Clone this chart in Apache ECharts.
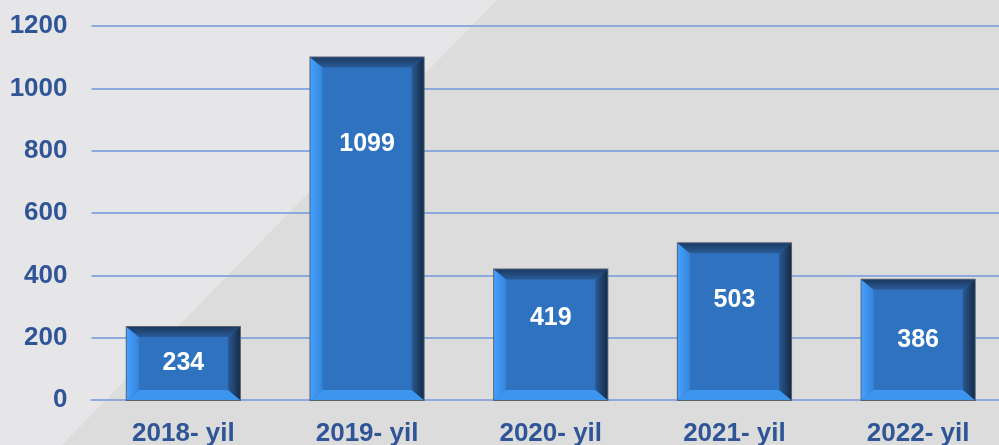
<!DOCTYPE html>
<html>
<head>
<meta charset="utf-8">
<script src="https://cdn.jsdelivr.net/npm/echarts@6/dist/echarts.min.js"></script>
<style>
    html, body { margin: 0; padding: 0; }
    #chart { width: 999px; height: 445px; }
</style>
</head>
<body>
<div id="chart"></div>
<script>
// data
var years = ['2018- yil', '2019- yil', '2020- yil', '2021- yil', '2022- yil'];
var counts = [234, 1099, 419, 503, 386];
var yTicks = [0, 200, 400, 600, 800, 1000, 1200];
// label shift from the middle of each bar (px)
var labelShift = [0, -85, -17, -22, 0];

var textColor = '#2F5597';
var fontFamily = '"Liberation Sans", Arial, sans-serif';

// bar with bevelled edges
function renderBar(params, api) {
    var i = api.value(0);
    var v = api.value(1);
    var top = api.coord([i, v]);
    var base = api.coord([i, 0]);
    var bw = api.size([1, 0])[0] * 0.616;
    var x0 = top[0] - bw / 2, x1 = top[0] + bw / 2;
    var y0 = top[1], y1 = base[1];
    var s = 12, t = 10;
    var cy = (y0 + y1) / 2 + labelShift[params.dataIndex];

    return {
        type: 'group',
        children: [
            {
                type: 'rect',
                shape: { x: x0 - 1, y: y0 - 1, width: bw + 2, height: y1 - y0 + 2 },
                style: { fill: '#5a5f68' }
            },
            {
                type: 'rect',
                shape: { x: x0, y: y0, width: bw, height: y1 - y0 },
                style: { fill: '#2F72C0' }
            },
            {
                type: 'polygon',
                shape: { points: [[x0, y0], [x0 + s, y0 + t], [x0 + s, y1 - t], [x0, y1]] },
                style: {
                    fill: new echarts.graphic.LinearGradient(0, 0, 1, 0, [
                        { offset: 0, color: '#45A0FF' },
                        { offset: 1, color: '#3585DA' }
                    ])
                }
            },
            {
                type: 'polygon',
                shape: { points: [[x1, y0], [x1, y1], [x1 - s, y1 - t], [x1 - s, y0 + t]] },
                style: {
                    fill: new echarts.graphic.LinearGradient(0, 0, 1, 0, [
                        { offset: 0, color: '#2A5A94' },
                        { offset: 1, color: '#152B47' }
                    ])
                }
            },
            {
                type: 'polygon',
                shape: { points: [[x0, y1], [x1, y1], [x1 - s, y1 - t], [x0 + s, y1 - t]] },
                style: { fill: '#3E95EE' }
            },
            {
                type: 'polygon',
                shape: { points: [[x0, y0], [x1, y0], [x1 - s, y0 + t], [x0 + s, y0 + t]] },
                style: {
                    fill: new echarts.graphic.LinearGradient(0, 0, 0, 1, [
                        { offset: 0, color: '#1C3A62' },
                        { offset: 1, color: '#2A5C98' }
                    ])
                }
            },
            {
                type: 'text',
                style: {
                    text: String(v),
                    x: top[0],
                    y: cy,
                    fill: '#ffffff',
                    font: 'bold 25px ' + fontFamily,
                    align: 'center',
                    verticalAlign: 'middle'
                }
            }
        ]
    };
}

var chart = echarts.init(document.getElementById('chart'));
chart.setOption({
    backgroundColor: '#DCDCDC',
    animation: false,
    graphic: [
        {
            type: 'polygon',
            z: -10,
            silent: true,
            shape: { points: [[0, 0], [497, 0], [62, 445], [0, 445]] },
            style: { fill: '#E6E6E9' }
        }
    ],
    grid: {
        left: 91.5,
        right: -11,
        top: 26,
        bottom: 45,
        outerBoundsMode: 'none'
    },
    xAxis: {
        type: 'category',
        data: years,
        axisLine: { show: true, lineStyle: { color: '#8EA9DB', width: 2 } },
        axisTick: { show: false },
        axisLabel: {
            color: textColor,
            fontWeight: 'bold',
            fontSize: 26,
            fontFamily: fontFamily,
            margin: 21
        }
    },
    yAxis: {
        type: 'value',
        min: yTicks[0],
        max: yTicks[yTicks.length - 1],
        interval: 200,
        axisLine: { show: false },
        axisTick: { show: false },
        splitLine: { lineStyle: { color: '#8EA9DB', width: 2 } },
        axisLabel: {
            color: textColor,
            fontWeight: 'bold',
            fontSize: 26,
            fontFamily: fontFamily,
            margin: 24,
            formatter: function (val) {
                return String(val);
            }
        }
    },
    series: [
        {
            type: 'custom',
            renderItem: renderBar,
            data: counts.map(function (c, i) {
                return [i, c];
            }),
            z: 5
        }
    ]
});
</script>
</body>
</html>
